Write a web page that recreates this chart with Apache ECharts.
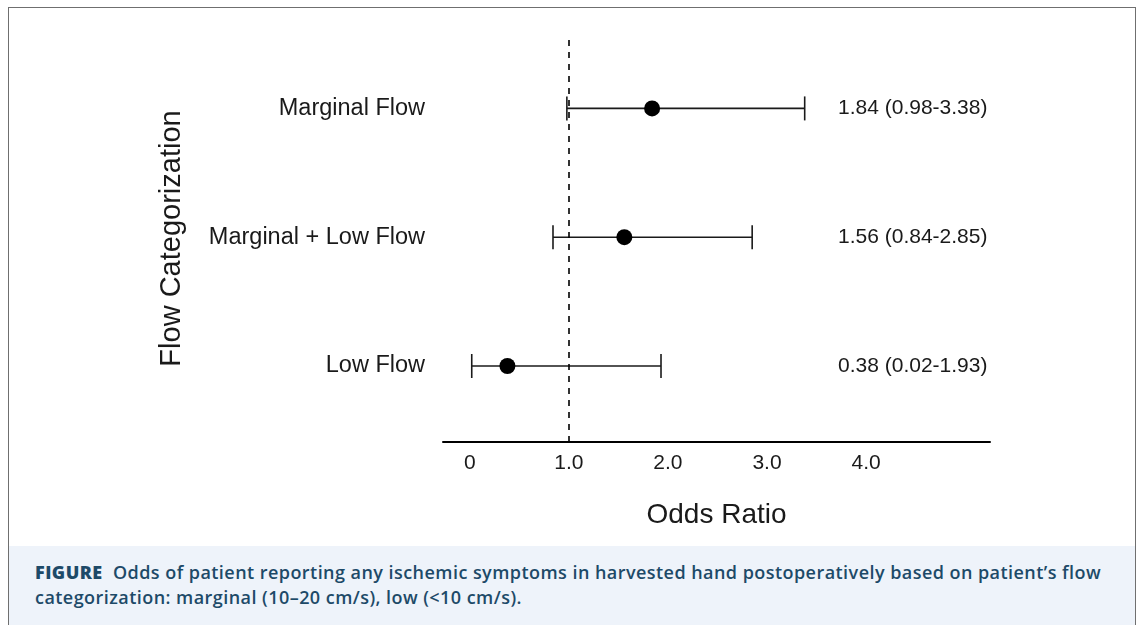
<!DOCTYPE html>
<html lang="en">
<head>
    <meta charset="UTF-8">
    <script src="https://cdn.jsdelivr.net/npm/echarts@6/dist/echarts.min.js"></script>
    <title>Odds Ratio by Flow Categorization</title>
    <style>
        body { margin: 0; background: #fff; }
        #frame { position: absolute; left: 8px; top: 7px; width: 1126px; height: 640px; border: 1px solid #6f6f6f; }
        #main { position: absolute; left: 0; top: 0; width: 1144px; height: 546px; }
        #caption {
            position: absolute; left: 9px; top: 546px; width: 1126px; height: 79px;
            background: #eef3fa; color: #1d4a68;
            font-family: "Open Sans", "Noto Sans", sans-serif; font-size: 18px; font-weight: 600;
            letter-spacing: 0.45px;
            line-height: 25px; box-sizing: border-box; padding: 14px 0 0 26px;
        }
        #caption b { font-weight: 800; }
    </style>
</head>
<body>
<div id="frame"></div>
<div id="main"></div>
<div id="caption"><b>FIGURE</b>&nbsp; Odds of patient reporting any ischemic symptoms in harvested hand postoperatively based on patient’s flow<br>categorization: marginal (10–20 cm/s), low (&lt;10 cm/s).</div>

<script>
    // data (rows bottom to top)
    var categories = ['Low Flow', 'Marginal + Low Flow', 'Marginal Flow'];
    var oddsRatio = [0.38, 1.56, 1.84];
    var ciLow = [0.02, 0.84, 0.98];
    var ciHigh = [1.93, 2.85, 3.38];
    var xTicks = [0, 1, 2, 3, 4];
    var xTickLabels = ['0', '1.0', '2.0', '3.0', '4.0'];
    var refLine = 1;

    var ink = '#1a1a1a';
    var font = '"Liberation Sans", Arial, sans-serif';
    var annotX = 838; // left edge of the OR (CI) text column, px

    var rowIdx = categories.map(function (c, i) { return i + 1; });
    var pointData = oddsRatio.map(function (v, i) { return [v, rowIdx[i]]; });
    var ciData = ciLow.map(function (lo, i) { return [lo, ciHigh[i], rowIdx[i]]; });
    var textData = oddsRatio.map(function (v, i) {
        return [v, rowIdx[i], v.toFixed(2) + ' (' + ciLow[i].toFixed(2) + '-' + ciHigh[i].toFixed(2) + ')'];
    });

    var chartDom = document.getElementById('main');
    var myChart = echarts.init(chartDom);
    var option = {
        animation: false,
        grid: { left: 443, right: 154, top: 35, bottom: 104 },
        xAxis: {
            type: 'value',
            min: -0.27,
            max: 5.25,
            name: 'Odds Ratio',
            nameLocation: 'middle',
            nameGap: 59,
            nameTextStyle: { fontFamily: font, fontSize: 28, color: ink },
            axisLine: { show: true, onZero: false, lineStyle: { color: '#000', width: 2 } },
            axisTick: { show: false },
            splitLine: { show: false },
            axisLabel: {
                customValues: xTicks,
                formatter: function (v) { return xTickLabels[xTicks.indexOf(v)]; },
                fontFamily: font, fontSize: 21, color: ink, margin: 11
            }
        },
        yAxis: {
            type: 'value',
            min: 0.41,
            max: 3.57,
            name: 'Flow Categorization',
            nameLocation: 'middle',
            nameRotate: 90,
            nameGap: 257,
            nameTextStyle: { fontFamily: font, fontSize: 29, color: ink },
            axisLine: { show: false },
            axisTick: { show: false },
            splitLine: { show: false },
            axisLabel: {
                customValues: rowIdx,
                formatter: function (v) { return categories[v - 1]; },
                fontFamily: font, fontSize: 23.5, color: ink, margin: 18
            }
        },
        series: [
            {
                type: 'custom',
                name: 'CI',
                data: ciData,
                z: 2,
                renderItem: function (params, api) {
                    var a = api.coord([api.value(0), api.value(2)]);
                    var b = api.coord([api.value(1), api.value(2)]);
                    var cap = 12;
                    var st = { stroke: ink, lineWidth: 1.6 };
                    return {
                        type: 'group',
                        children: [
                            { type: 'line', shape: { x1: a[0], y1: a[1], x2: b[0], y2: b[1] }, style: st },
                            { type: 'line', shape: { x1: a[0], y1: a[1] - cap, x2: a[0], y2: a[1] + cap }, style: st },
                            { type: 'line', shape: { x1: b[0], y1: b[1] - cap, x2: b[0], y2: b[1] + cap }, style: st }
                        ]
                    };
                },
                markLine: {
                    silent: true,
                    symbol: 'none',
                    label: { show: false },
                    lineStyle: { color: '#000', type: [6, 6], width: 1.6 },
                    data: [{ xAxis: refLine }]
                }
            },
            {
                type: 'scatter',
                name: 'OR',
                data: pointData,
                symbol: 'circle',
                symbolSize: 16,
                itemStyle: { color: '#000', opacity: 1 },
                z: 3
            },
            {
                type: 'custom',
                name: 'text',
                data: textData,
                renderItem: function (params, api) {
                    var p = api.coord([api.value(0), api.value(1)]);
                    return {
                        type: 'text',
                        style: {
                            x: annotX, y: p[1],
                            text: textData[params.dataIndex][2],
                            font: '21px ' + font,
                            fill: ink,
                            verticalAlign: 'middle'
                        }
                    };
                }
            }
        ]
    };
    myChart.setOption(option);
</script>
</body>
</html>
